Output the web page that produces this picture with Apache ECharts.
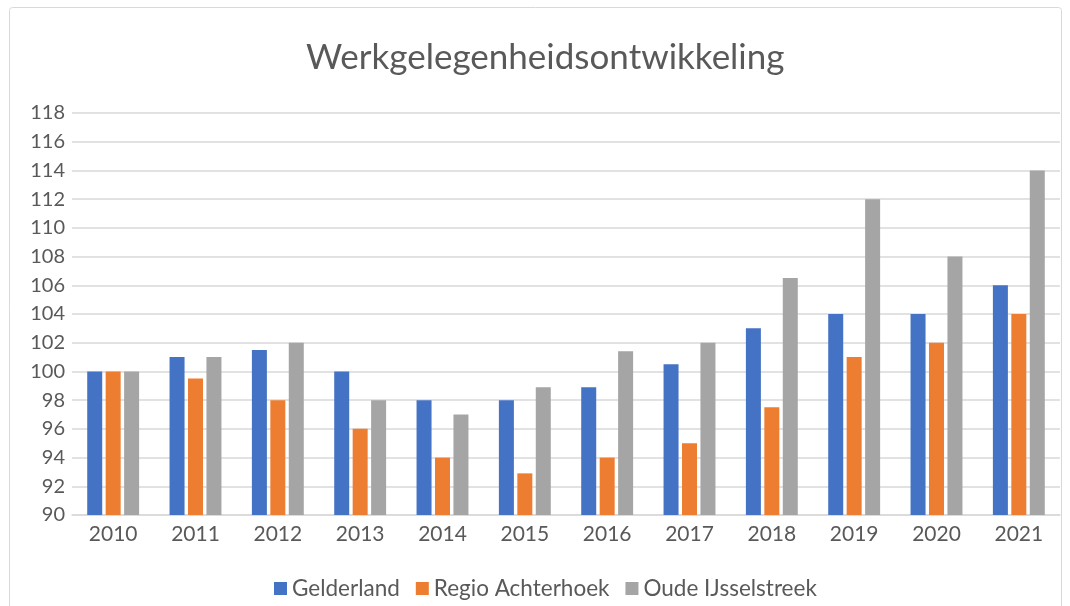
<!DOCTYPE html>
<html>
<head>
<meta charset="utf-8">
<script src="https://cdn.jsdelivr.net/npm/echarts@6/dist/echarts.min.js"></script>
<style>
  html, body { margin: 0; padding: 0; background: #fff; }
  #chart { width: 1070px; height: 606px; }
</style>
</head>
<body>
<div id="chart"></div>
<script>
var years = ['2010', '2011', '2012', '2013', '2014', '2015', '2016', '2017', '2018', '2019', '2020', '2021'];
var gelderland = [100, 101, 101.5, 100, 98, 98, 98.9, 100.5, 103, 104, 104, 106];
var achterhoek = [100, 99.5, 98, 96, 94, 92.9, 94, 95, 97.5, 101, 102, 104];
var oudeIJssel = [100, 101, 102, 98, 97, 98.9, 101.4, 102, 106.5, 112, 108, 114];

var myChart = echarts.init(document.getElementById('chart'));
var font = 'Lato, "Open Sans", sans-serif';

var option = {
    animation: false,
    textStyle: { fontFamily: font },
    title: {
        text: 'Werkgelegenheidsontwikkeling',
        left: 301,
        top: 35,
        textStyle: { fontSize: 35, fontWeight: 'normal', color: '#595959', fontFamily: font }
    },
    // light frame around the chart area
    graphic: [{
        type: 'rect',
        shape: { x: 9.5, y: 7.5, width: 1052, height: 620, r: 3 },
        style: { fill: 'none', stroke: '#d9d9d9', lineWidth: 1 },
        silent: true
    }],
    legend: {
        bottom: 1,
        left: 269,
        itemWidth: 13,
        itemHeight: 13,
        itemGap: 16,
        itemStyle: { borderWidth: 0 },
        icon: 'rect',
        textStyle: { fontSize: 22.5, color: '#595959', fontFamily: font },
        data: ['Gelderland', 'Regio Achterhoek', 'Oude IJsselstreek']
    },
    grid: { left: 72, right: 10, top: 113, bottom: 91, containLabel: false },
    xAxis: {
        type: 'category',
        data: years,
        axisTick: { show: false },
        axisLine: { lineStyle: { color: '#d9d9d9', width: 1.5 } },
        axisLabel: { fontSize: 21, color: '#595959', margin: 9, fontFamily: font }
    },
    yAxis: {
        type: 'value',
        min: 90,
        max: 118,
        interval: 2,
        axisLine: { show: false },
        axisTick: { show: false },
        axisLabel: { fontSize: 20, color: '#595959', margin: 7, fontFamily: font },
        splitLine: { lineStyle: { color: '#d9d9d9', width: 1.5 } }
    },
    series: [
        { name: 'Gelderland', type: 'bar', data: gelderland, barWidth: 15, barGap: '23%', itemStyle: { color: '#4472c4' } },
        { name: 'Regio Achterhoek', type: 'bar', data: achterhoek, barWidth: 15, barGap: '23%', itemStyle: { color: '#ed7d31' } },
        { name: 'Oude IJsselstreek', type: 'bar', data: oudeIJssel, barWidth: 15, barGap: '23%', itemStyle: { color: '#a5a5a5' } }
    ]
};
myChart.setOption(option);
</script>
</body>
</html>
